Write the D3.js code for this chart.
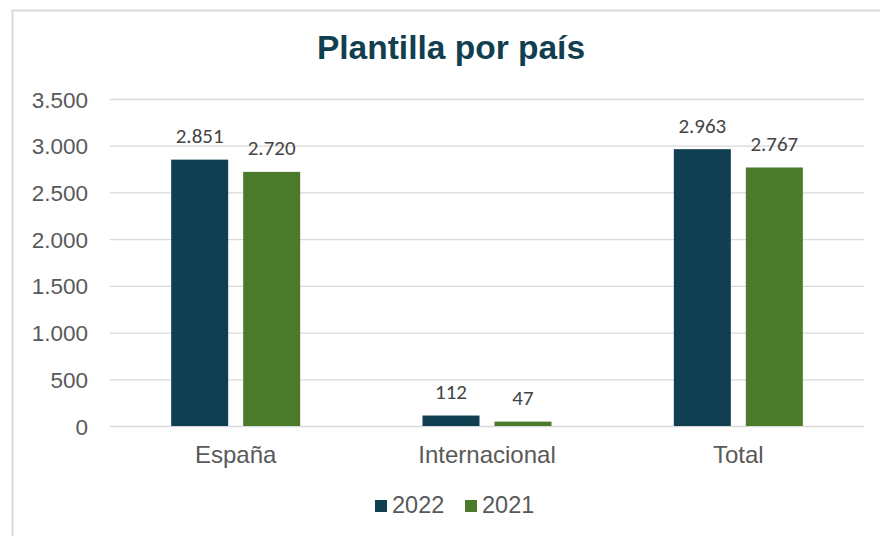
<!DOCTYPE html>
<html>
<head>
<meta charset="utf-8">
<script src="https://cdn.jsdelivr.net/npm/d3@7"></script>
<style>
  html, body { margin: 0; padding: 0; background: #fff; }
  svg { display: block; }
</style>
</head>
<body>
<svg id="chart" width="880" height="536"></svg>
<script>
// Headcount by country, 2022 vs 2021
const categories = ["España", "Internacional", "Total"];
const seriesNames = ["2022", "2021"];
const values2022 = [2851, 112, 2963];
const values2021 = [2720, 47, 2767];
const yTicks = [0, 500, 1000, 1500, 2000, 2500, 3000, 3500];
const colors = ["#103f52", "#4c7a2b"];

const fmt = v => d3.format(",")(v).replace(/,/g, ".");

const svg = d3.select("#chart");

// chart frame
svg.append("rect")
  .attr("x", 12.5).attr("y", 10.5)
  .attr("width", 880).attr("height", 540)
  .attr("fill", "#fff").attr("stroke", "#d9d9d9").attr("stroke-width", 2);

svg.append("text")
  .attr("x", 451).attr("y", 59)
  .attr("text-anchor", "middle")
  .attr("font-family", "Liberation Sans, Arial, sans-serif")
  .attr("font-weight", "bold")
  .attr("font-size", 33.5)
  .attr("fill", "#123f50")
  .text("Plantilla por país");

const plotLeft = 110, plotRight = 864, plotTop = 99, plotBottom = 426;

const x = d3.scaleBand().domain(categories).range([plotLeft, plotRight]);
const y = d3.scaleLinear().domain([0, 3500]).range([plotBottom, plotTop]);

// gridlines
svg.append("g").selectAll("line").data(yTicks).join("line")
  .attr("x1", plotLeft).attr("x2", plotRight)
  .attr("y1", d => y(d) + 0.5).attr("y2", d => y(d) + 0.5)
  .attr("stroke", "#d9d9d9").attr("stroke-width", 1.3);

// y axis labels
const yAxis = d3.axisLeft(y).tickValues(yTicks).tickFormat(fmt).tickSize(0).tickPadding(0);
const gy = svg.append("g").attr("transform", `translate(88,0)`).call(yAxis);
gy.select(".domain").remove();
gy.selectAll("text")
  .attr("font-family", "Liberation Sans, Arial, sans-serif")
  .attr("font-size", 22.5)
  .attr("fill", "#595959")
  .attr("dy", "0.36em");

// x axis labels
const xAxis = d3.axisBottom(x).tickSize(0).tickPadding(0);
const gx = svg.append("g").attr("transform", `translate(0,463)`).call(xAxis);
gx.select(".domain").remove();
gx.selectAll("text")
  .attr("font-family", "Liberation Sans, Arial, sans-serif")
  .attr("font-size", 24)
  .attr("fill", "#595959")
  .attr("dy", 0);

// bars, grouped per category
const series = [values2022, values2021];
const barW = 57, gap = 15;
const groupOffset = (x.bandwidth() - (2 * barW + gap)) / 2;

seriesNames.forEach((s, si) => {
  const data = categories.map((c, i) => ({ c, v: series[si][i] }));
  const g = svg.append("g");
  const bx = d => x(d.c) + groupOffset + si * (barW + gap);
  g.selectAll("rect").data(data).join("rect")
    .attr("x", bx)
    .attr("y", d => y(d.v))
    .attr("width", barW)
    .attr("height", d => y(0) - y(d.v))
    .attr("fill", colors[si]);
  g.selectAll("text").data(data).join("text")
    .attr("x", d => bx(d) + barW / 2)
    .attr("y", d => y(d.v) - 16.5)
    .attr("text-anchor", "middle")
    .attr("font-family", "Carlito, 'Open Sans', sans-serif")
    .attr("font-size", 21)
    .attr("fill", "#444")
    .text(d => fmt(d.v));
});

// legend
const legend = svg.append("g");
const legendItems = [{ n: "2022", x: 375 }, { n: "2021", x: 465 }];
legendItems.forEach((d, i) => {
  legend.append("rect")
    .attr("x", d.x).attr("y", 500).attr("width", 12).attr("height", 12)
    .attr("fill", colors[i]);
  legend.append("text")
    .attr("x", d.x + 17).attr("y", 512.5)
    .attr("font-family", "Liberation Sans, Arial, sans-serif")
    .attr("font-size", 23.5)
    .attr("fill", "#595959")
    .text(d.n);
});
</script>
</body>
</html>
